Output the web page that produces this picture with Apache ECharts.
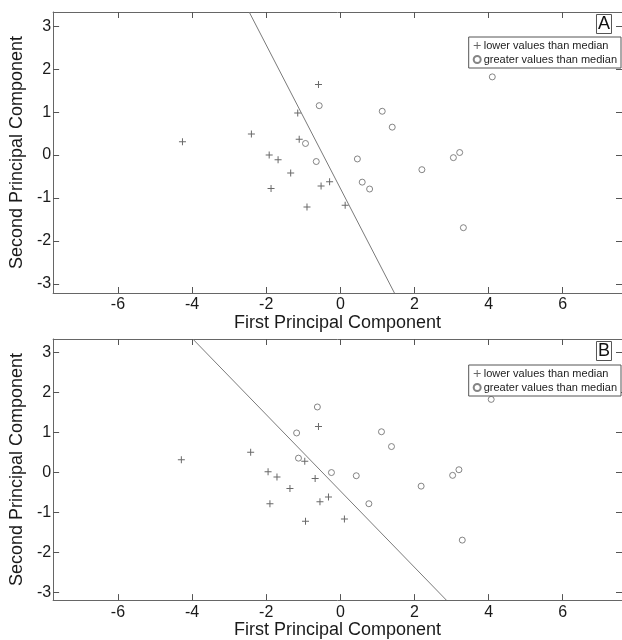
<!DOCTYPE html>
<html>
<head>
<meta charset="utf-8">
<script src="https://cdn.jsdelivr.net/npm/echarts@6/dist/echarts.min.js"></script>
<style>
  html, body { margin: 0; padding: 0; background: #fff; }
  #chart { width: 622px; height: 640px; }
</style>
</head>
<body>
<div id="chart"></div>
<script>
// panel A: scores split by the median
const lowerA = [
  [-0.59, 1.64], [-1.15, 0.98], [-2.40, 0.49], [-1.11, 0.37], [-1.92, 0.00],
  [-1.68, -0.11], [-1.34, -0.42], [-0.29, -0.62], [-0.52, -0.72], [-1.87, -0.78],
  [-0.90, -1.21], [0.13, -1.17], [-4.26, 0.31]
];
const greaterA = [
  [-0.57, 1.15], [-0.94, 0.27], [-0.65, -0.15], [0.46, -0.09], [0.59, -0.63],
  [4.10, 1.82], [1.13, 1.02], [1.40, 0.65], [3.05, -0.06], [3.22, 0.06],
  [2.20, -0.34], [0.79, -0.79], [3.32, -1.69]
];
const boundaryA = [[-2.46, 3.33], [1.46, -3.21]];

// panel B
const lowerB = [
  [-0.59, 1.14], [-2.42, 0.50], [-0.96, 0.27], [-1.95, 0.01], [-1.71, -0.12],
  [-0.68, -0.16], [-1.36, -0.41], [-0.32, -0.62], [-0.55, -0.74], [-1.90, -0.79],
  [-0.94, -1.23], [0.11, -1.17], [-4.29, 0.31]
];
const greaterB = [
  [-0.62, 1.63], [-1.18, 0.98], [-1.13, 0.35], [-0.24, -0.01], [0.43, -0.09],
  [4.07, 1.82], [1.11, 1.01], [1.38, 0.64], [3.03, -0.08], [3.20, 0.06],
  [2.18, -0.35], [0.77, -0.79], [3.29, -1.70]
];
const boundaryB = [[-3.98, 3.33], [2.86, -3.20]];

const xTicks = [-6, -4, -2, 0, 2, 4, 6];
const yTicks = [-3, -2, -1, 0, 1, 2, 3];
const panelLabels = ['A', 'B'];

const font = "'Liberation Sans', Arial, sans-serif";
const plusPath = 'path://M3,0H4V3H7V4H4V7H3V4H0V3H3Z';
const LOWER = 'lower values than median';
const GREATER = 'greater values than median';

function xAxes (gi) {
  const base = {
    type: 'value', gridIndex: gi, min: -7.75, max: 7.6,
    splitLine: { show: false },
    axisLine: { show: true, onZero: false, lineStyle: { color: '#666', width: 1 } },
    axisTick: { inside: true, length: 6, customValues: xTicks, lineStyle: { color: '#555' } }
  };
  return [
    Object.assign({}, base, {
      position: 'bottom',
      name: 'First Principal Component',
      nameLocation: 'middle',
      nameGap: 20,
      nameTextStyle: { fontFamily: font, fontSize: 18, color: '#1a1a1a' },
      axisLabel: { customValues: xTicks, fontFamily: font, fontSize: 16, color: '#1a1a1a', margin: 4 }
    }),
    Object.assign({}, base, { position: 'top', axisLabel: { show: false } })
  ];
}

function yAxes (gi, min) {
  const base = {
    type: 'value', gridIndex: gi, min: min, max: 3.33,
    splitLine: { show: false },
    axisLine: { show: true, onZero: false, lineStyle: { color: '#666', width: 1 } },
    axisTick: { inside: true, length: 6, customValues: yTicks, lineStyle: { color: '#555' } }
  };
  return [
    Object.assign({}, base, {
      position: 'left',
      name: 'Second Principal Component',
      nameLocation: 'middle',
      nameRotate: 90,
      nameGap: 17,
      nameTextStyle: { fontFamily: font, fontSize: 18, color: '#1a1a1a' },
      axisLabel: { customValues: yTicks, fontFamily: font, fontSize: 16, color: '#1a1a1a', margin: 2 }
    }),
    Object.assign({}, base, { position: 'right', axisLabel: { show: false } })
  ];
}

function panelSeries (gi, lower, greater, boundary) {
  const ax = { xAxisIndex: gi * 2, yAxisIndex: gi * 2 };
  return [
    Object.assign({
      type: 'line', data: boundary, symbol: 'none', silent: true,
      lineStyle: { color: '#7a7a7a', width: 1 }
    }, ax),
    Object.assign({
      name: LOWER, type: 'scatter', data: lower, symbol: plusPath, symbolSize: 7,
      itemStyle: { color: '#444' }
    }, ax),
    Object.assign({
      name: GREATER, type: 'scatter', data: greater, symbol: 'circle', symbolSize: 6,
      itemStyle: { color: 'rgba(0,0,0,0)', borderColor: '#666', borderWidth: 1 }
    }, ax)
  ];
}

function legendAt (top) {
  return {
    top: top, right: 1, orient: 'vertical', selectedMode: false,
    itemWidth: 7, itemHeight: 7, itemGap: 3,
    padding: [3, 4, 3, 4],
    borderColor: '#555', borderWidth: 1, backgroundColor: '#fff',
    textStyle: { fontFamily: font, fontSize: 11, color: '#222', padding: [0, 0, 0, -2] },
    data: [LOWER, GREATER]
  };
}

function labelAt (i, top) {
  return {
    text: panelLabels[i], right: 10, top: top,
    padding: [1, 2, 1, 2],
    borderColor: '#555', borderWidth: 1, backgroundColor: '#fff',
    textStyle: { fontFamily: font, fontSize: 18, fontWeight: 'normal', color: '#111' }
  };
}

const chart = echarts.init(document.getElementById('chart'));
chart.setOption({
  animation: false,
  backgroundColor: '#fff',
  title: [labelAt(0, 14), labelAt(1, 341)],
  legend: [legendAt(37), legendAt(365)],
  grid: [
    { left: 47, top: 12, width: 577, height: 281, containLabel: false },
    { left: 46, top: 339, width: 578, height: 263, containLabel: false }
  ],
  xAxis: xAxes(0).concat(xAxes(1)),
  yAxis: yAxes(0, -3.21).concat(yAxes(1, -3.2)),
  series: panelSeries(0, lowerA, greaterA, boundaryA).concat(panelSeries(1, lowerB, greaterB, boundaryB))
});
window.addEventListener('resize', () => chart.resize());
</script>
</body>
</html>
